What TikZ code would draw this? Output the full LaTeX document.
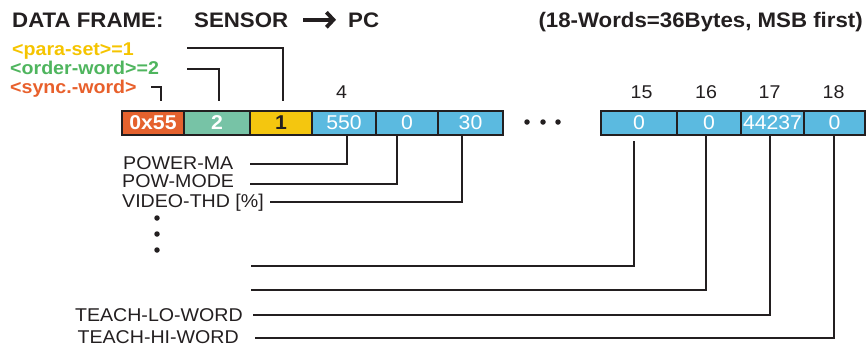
\documentclass[tikz,border=0pt]{standalone}
\usepackage{fontspec}
\setmainfont{Liberation Sans}[FakeStretch=1.06]
\usetikzlibrary{arrows.meta}
\definecolor{lc}{HTML}{231F20}
\definecolor{cred}{HTML}{E5622E}
\definecolor{cgrn}{HTML}{77C3A6}
\definecolor{cyel}{HTML}{F4C60F}
\definecolor{cblu}{HTML}{5BBAE0}
\definecolor{tyel}{HTML}{F5C400}
\definecolor{tgrn}{HTML}{4FB55E}
\definecolor{tred}{HTML}{E8602C}
\begin{document}
\begin{tikzpicture}[x=1pt,y=-1pt,
  title/.style={font=\fontsize{21}{22}\bfseries\selectfont, text=lc, inner sep=0pt},
  tag/.style={font=\fontsize{18.5}{21}\bfseries\selectfont, inner sep=0pt},
  lbl/.style={font=\fontsize{18.5}{20}\selectfont, text=lc, inner sep=0pt},
  num/.style={font=\fontsize{18.5}{20}\selectfont, text=lc, inner sep=0pt, anchor=base},
  cell/.style={draw=lc, line width=2.6pt, minimum height=24pt, inner sep=0pt, text=white,
    font=\fontsize{20}{20}\selectfont},
  conn/.style={draw=lc, line width=1.3pt},
  dot/.style={circle, fill=lc, inner sep=0pt, minimum size=5.5pt}]
\useasboundingbox (0,0) rectangle (866,349);

% title
\node[title, anchor=base west] (df) at (12,27) {DATA FRAME:};
\node[title, anchor=base west] (sen) at (194,27) {SENSOR};
\node[title, anchor=base west] (pc) at (348,27) {PC};
\node[title, anchor=base east] (info) at (863,27) {(18-Words=36Bytes, MSB first)};
\draw[lc, line width=3.8pt, -{Straight Barb[length=7pt,width=15pt]}] ([xshift=15pt]sen.east) -- ([xshift=-12pt]pc.west);

% tags
\node[tag, text=tyel, anchor=base west] (tpara) at (12,55) {<para-set>=1};
\node[tag, text=tgrn, anchor=base west] (tord) at (10,74) {<order-word>=2};
\node[tag, text=tred, anchor=base west] (tsync) at (10,93) {<sync.-word>};

% cells
\node[cell, fill=cred, minimum width=62pt, font=\fontsize{20}{20}\bfseries\selectfont] (b0) at (153,123) {0x55};
\node[cell, fill=cgrn, minimum width=66pt, font=\fontsize{20}{20}\bfseries\selectfont] (b2) at (217,123) {2};
\node[cell, fill=cyel, minimum width=62pt, text=lc, font=\fontsize{20}{20}\bfseries\selectfont] (b3) at (281,123) {1};
\node[cell, fill=cblu, minimum width=64pt] (b4) at (344,123) {550};
\node[cell, fill=cblu, minimum width=62pt] (b5) at (407,123) {0};
\node[cell, fill=cblu, minimum width=65pt] (b6) at (470.5,123) {30};
\node[cell, fill=cblu, minimum width=76pt] (b15) at (639,123) {0};
\node[cell, fill=cblu, minimum width=64pt] (b16) at (709,123) {0};
\node[cell, fill=cblu, minimum width=63pt] (b17) at (772.5,123) {44237};
\node[cell, fill=cblu, minimum width=61pt] (b18) at (834.5,123) {0};

% horizontal ellipsis
\node[dot] (e1) at (527,122) {};
\node[dot] (e2) at (543,122) {};
\node[dot] (e3) at (558,122) {};

% index numbers
\node[num] (n4) at (341.5,98) {4};
\node[num] (n15) at (641.5,98) {15};
\node[num] (n16) at (706,98) {16};
\node[num] (n17) at (769.5,98) {17};
\node[num] (n18) at (833.5,98) {18};

% upper connectors
\coordinate (cpara) at (187,48);
\coordinate (cord) at (187,69);
\coordinate (csync) at (151,87);
\draw[conn] (cpara) -| ([xshift=2pt,yshift=9pt]b3.north);
\draw[conn] (cord) -| ([xshift=2pt,yshift=9pt]b2.north);
\draw[conn] (csync) -| ([xshift=8pt,yshift=9pt]b0.north);

% lower labels
\node[lbl, anchor=base west] (lpm) at (123,169) {POWER-MA};
\node[lbl, anchor=base west] (lmode) at (122,187) {POW-MODE};
\node[lbl, anchor=base west] (lvid) at (122,207) {VIDEO-THD [\%]};
\node[lbl, anchor=base east] (llo) at (243,321) {TEACH-LO-WORD};
\node[lbl, anchor=base east] (lhi) at (239,343) {TEACH-HI-WORD};

% vertical ellipsis
\node[dot] (v1) at (157,218) {};
\node[dot] (v2) at (157,234) {};
\node[dot] (v3) at (157,250) {};

% lower connectors
\coordinate (cpm) at (250,164);
\coordinate (cmode) at (250,184);
\coordinate (cvid) at (270,202);
\coordinate (c15) at (251,266);
\coordinate (c16) at (251,290);
\coordinate (clo) at (253,315);
\coordinate (chi) at (255,338);
\draw[conn] (cpm) -| ([xshift=3pt]b4.south);
\draw[conn] (cmode) -| ([xshift=-10pt]b5.south);
\draw[conn] (cvid) -| ([xshift=-8.5pt]b6.south);
\draw[conn] (c15) -| ([xshift=-5pt,yshift=-5pt]b15.south);
\draw[conn] (c16) -| ([xshift=-3pt]b16.south);
\draw[conn] (clo) -| ([xshift=-2.5pt]b17.south);
\draw[conn] (chi) -| ([xshift=-0.5pt]b18.south);
\end{tikzpicture}
\end{document}
